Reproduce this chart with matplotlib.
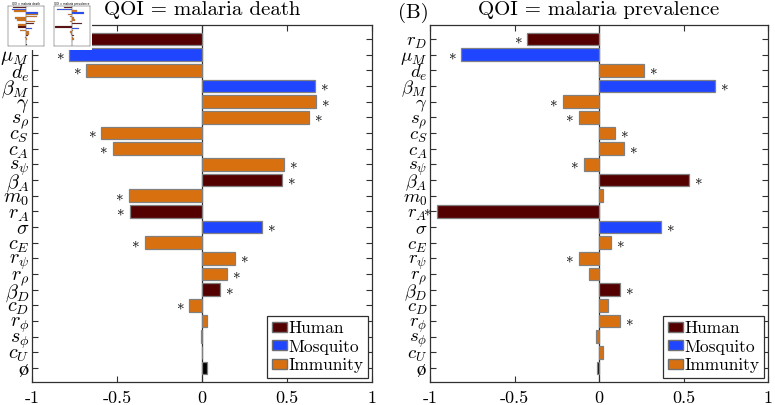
import numpy as np
import matplotlib
matplotlib.use("Agg")
import matplotlib.pyplot as plt
from matplotlib.patches import Patch, Rectangle

plt.rcParams["mathtext.fontset"] = "cm"

params = [r"$r_D$", r"$\mu_M$", r"$d_e$", r"$\beta_M$", r"$\gamma$", r"$s_\rho$",
          r"$c_S$", r"$c_A$", r"$s_\psi$", r"$\beta_A$", r"$m_0$", r"$r_A$",
          r"$\sigma$", r"$c_E$", r"$r_\psi$", r"$r_\rho$", r"$\beta_D$", r"$c_D$",
          r"$r_\phi$", r"$s_\phi$", r"$c_U$", r"$\mathrm{\o}$"]
# H = human, M = mosquito, I = immunity, N = dummy
groups = ["H", "M", "I", "M", "I", "I", "I", "I", "I", "H", "I", "H",
          "M", "I", "I", "I", "H", "I", "I", "I", "I", "N"]

death = [-0.75, -0.78, -0.68, 0.667, 0.668, 0.63, -0.592, -0.525, 0.48, 0.471, -0.429, -0.424,
         0.351, -0.337, 0.194, 0.145, 0.106, -0.075, 0.029, -0.005, 0.002, 0.028]
death_sig = [1, 1, 1, 1, 1, 1, 1, 1, 1, 1, 1, 1, 1, 1, 1, 1, 1, 1, 0, 0, 0, 0]

prev = [-0.424, -0.815, 0.266, 0.685, -0.215, -0.12, 0.093, 0.148, -0.089, 0.531, 0.022, -0.96,
        0.369, 0.069, -0.12, -0.057, 0.126, 0.055, 0.126, -0.018, 0.022, -0.014]
prev_sig = [1, 1, 1, 1, 1, 1, 1, 1, 1, 1, 0, 1, 1, 1, 1, 0, 1, 0, 1, 0, 0, 0]

colors = {"H": "#540000", "M": "#1f45ff", "I": "#d9700f", "N": "#000000"}
names = {"H": "Human", "M": "Mosquito", "I": "Immunity"}
cm_font = "cmr10"


def draw_panel(ax, vals, sig, title, small=False, label_size=13.5):
    y = np.arange(1, len(vals) + 1)
    cols = [colors[g] for g in groups]
    ax.barh(y, vals, height=0.8, color=cols, edgecolor="#808080",
            linewidth=0.2 if small else 0.9)
    ax.axvline(0, color="#303030", lw=0.3 if small else 0.9, zorder=0.5)
    ax.set_xlim(-1, 1)
    ax.set_ylim(22.9, 0.1)
    for s in ax.spines.values():
        s.set_color("#303030")
        s.set_linewidth(0.3 if small else 0.9)
    if small:
        ax.set_xticks([])
        ax.set_yticks([])
        ax.set_title(title, fontsize=2, pad=1)
        return
    for yi, v, s in zip(y, vals, sig):
        if s:
            off = 0.055 if v > 0 else -0.055
            ax.text(v + off, yi, r"$\ast$", ha="center", va="center", fontsize=11)
    ax.set_xticks([-1, -0.5, 0, 0.5, 1])
    ax.set_xticklabels(["-1", "-0.5", "0", "0.5", "1"], fontfamily=cm_font, fontsize=13)
    ax.set_yticks(y)
    ax.set_yticklabels(params, fontsize=label_size)
    ax.tick_params(axis="both", direction="in", length=4, width=0.8, color="#303030",
                   top=True, right=True, pad=6)
    ax.tick_params(axis="y", pad=2)
    ax.set_title(title, fontfamily=cm_font, fontsize=15, pad=7)
    handles = [Patch(facecolor=colors[k], edgecolor="#707070", label=names[k]) for k in "HMI"]
    leg = ax.legend(handles=handles, loc="lower right", prop={"family": cm_font, "size": 12.5},
                    fancybox=False, edgecolor="#303030", framealpha=1,
                    handlelength=0.85, handleheight=0.5, handletextpad=0.1,
                    borderpad=0.25, labelspacing=0.2, borderaxespad=0.25)
    leg.get_frame().set_linewidth(0.9)


fig = plt.figure(figsize=(7.75, 4.05), dpi=100)
ax1 = fig.add_axes([32 / 775, 23 / 405, 340 / 775, 357 / 405])
ax2 = fig.add_axes([430 / 775, 23 / 405, 338 / 775, 357 / 405])
draw_panel(ax1, death, death_sig, "QOI = malaria death", label_size=14.5)
draw_panel(ax2, prev, prev_sig, "QOI = malaria prevalence", label_size=13.5)
fig.text(398 / 775, 1 - 13 / 405, "(B)", fontfamily=cm_font, fontsize=15,
         ha="left", va="center")

# small thumbnail pasted in the top left corner
fig.patches.append(Rectangle((0, 1 - 50 / 405), 92 / 775, 50 / 405,
                             transform=fig.transFigure, facecolor="white",
                             edgecolor="none", zorder=5))
t1 = fig.add_axes([8 / 775, 1 - 46 / 405, 36 / 775, 40 / 405], zorder=6)
t2 = fig.add_axes([54 / 775, 1 - 46 / 405, 36 / 775, 40 / 405], zorder=6)
draw_panel(t1, death, death_sig, "QOI = malaria death", small=True)
draw_panel(t2, prev, prev_sig, "QOI = malaria prevalence", small=True)

fig.savefig("out.png", dpi=100)
